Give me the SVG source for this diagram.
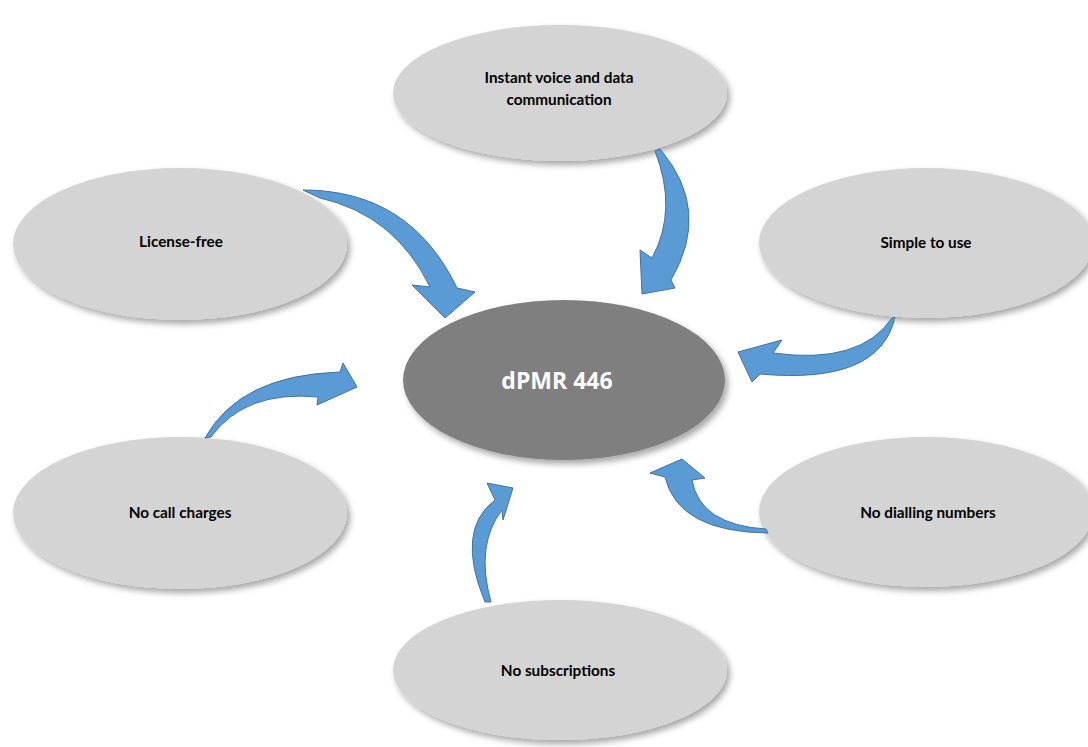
<svg xmlns="http://www.w3.org/2000/svg" width="1088" height="747" viewBox="0 0 1088 747">
<defs>
<filter id="sh" x="-10%" y="-10%" width="125%" height="130%">
<feDropShadow dx="3" dy="4" stdDeviation="3" flood-color="#000" flood-opacity="0.35"/>
</filter>
<style>
.n{fill:#d4d4d4;filter:url(#sh)}
.c{fill:#7f7f7f;filter:url(#sh)}
.t{font-family:Lato,"Liberation Sans",sans-serif;font-weight:bold;font-size:15.3px;fill:#000;text-anchor:middle}
.tc{font-family:"Open Sans","Liberation Sans",sans-serif;font-weight:bold;font-size:23px;fill:#fff;text-anchor:middle}
.a{fill:#5b9bd5;stroke:#41719c;stroke-width:1;stroke-linejoin:miter}
</style>
</defs>
<rect width="1088" height="747" fill="#fff"/>
<g id="node-top"><ellipse class="n" cx="560" cy="93" rx="167" ry="68"/><text class="t" x="559" y="83">Instant voice and data</text><text class="t" x="559" y="105">communication</text></g>
<g id="node-license"><ellipse class="n" cx="180" cy="244" rx="167" ry="76"/><text class="t" x="181" y="247">License-free</text></g>
<g id="node-simple"><ellipse class="n" cx="926" cy="243" rx="167" ry="75"/><text class="t" x="926" y="248">Simple to use</text></g>
<g id="node-center"><ellipse class="c" cx="564" cy="380" rx="161" ry="80"/><text class="tc" x="557" y="389">dPMR 446</text></g>
<g id="node-calls"><ellipse class="n" cx="180" cy="513" rx="167" ry="76"/><text class="t" x="180" y="518">No call charges</text></g>
<g id="node-dial"><ellipse class="n" cx="926" cy="512" rx="167" ry="75"/><text class="t" x="928" y="518">No dialling numbers</text></g>
<g id="node-subs"><ellipse class="n" cx="560" cy="670" rx="167" ry="70"/><text class="t" x="558" y="676">No subscriptions</text></g>
<g id="connectors">
<path class="a" d="M303,190 Q410,190 457,288 L475,292 L445,318 L412,285 L430,287 Q395,215 320,198 Z"/>
<path class="a" d="M660,149 Q712,210 671,280 L675,288 L642,294 L640,250 L652,258 Q678,210 655,151 Z"/>
<path class="a" d="M895,317 Q880,385 760,374 L752,382 L738,352 L782,340 L773,353 Q860,365 892,318 Z"/>
<path class="a" d="M768,533 Q678,532 665,477 L650,473 L682,459 L705,478 L692,480 Q700,525 766,529 Z"/>
<path class="a" d="M485,602 Q455,530 495,500 L487,483 L513,488 L503,520 L502,510 Q475,545 491,602 Z"/>
<path class="a" d="M205,438 Q240,375 340,372 L343,363 L357,387 L317,405 L318,397 Q245,390 211,437 Z"/>
</g>
</svg>
